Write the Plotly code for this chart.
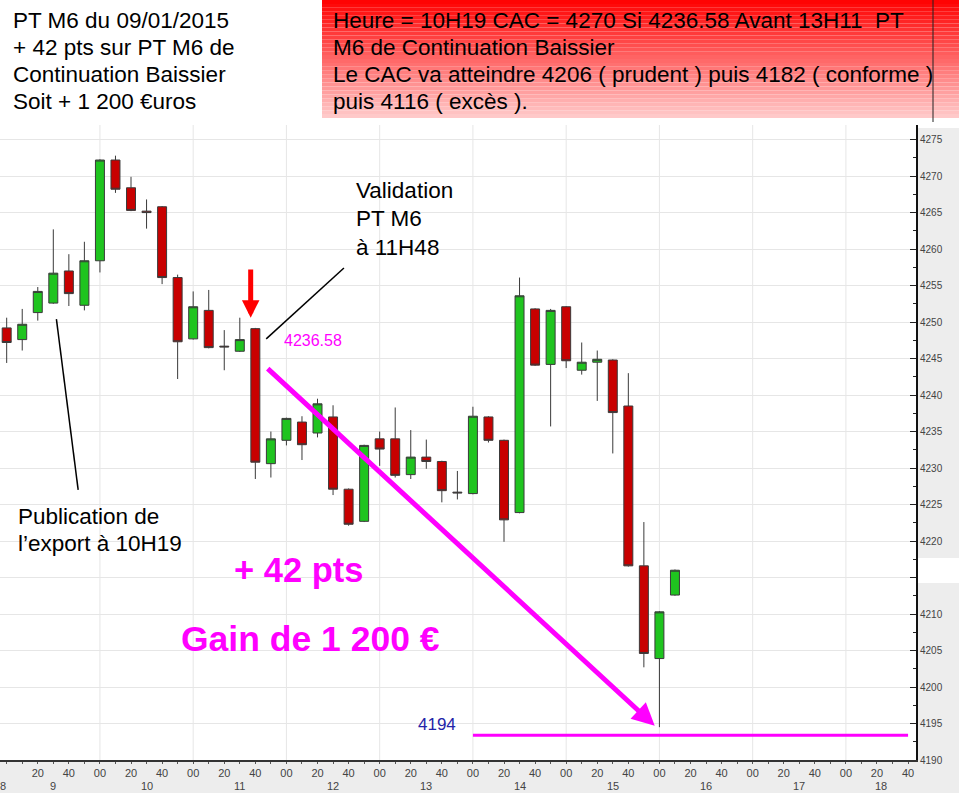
import plotly.graph_objects as go
import pandas as pd

DAY = "2015-01-09"

# ---- data (10-minute candles, CAC 40) ----
times = ["09:00", "09:10", "09:20", "09:30", "09:40", "09:50",
         "10:00", "10:10", "10:20", "10:30", "10:40", "10:50",
         "11:00", "11:10", "11:20", "11:30", "11:40", "11:50",
         "12:00", "12:10", "12:20", "12:30", "12:40", "12:50",
         "13:00", "13:10", "13:20", "13:30", "13:40", "13:50",
         "14:00", "14:10", "14:20", "14:30", "14:40", "14:50",
         "15:00", "15:10", "15:20", "15:30", "15:40", "15:50",
         "16:00", "16:10"]
opens = [4249.2, 4247.6, 4251.3, 4252.6, 4257.0, 4252.3,
         4258.4, 4272.2, 4268.4, 4265.2, 4265.8, 4256.1,
         4247.7, 4251.6, 4246.7, 4246.0, 4249.1, 4230.6,
         4233.8, 4236.3, 4234.8, 4237.0, 4227.1, 4222.7,
         4234.0, 4234.0, 4229.1, 4231.5, 4230.9, 4226.7,
         4226.5, 4237.0, 4233.8, 4223.9, 4251.8, 4244.2,
         4252.1, 4243.4, 4244.5, 4244.8, 4238.5, 4216.6,
         4203.9, 4212.6]
highs = [4250.6, 4251.8, 4254.8, 4262.7, 4259.3, 4261.0,
         4272.3, 4272.8, 4269.9, 4266.8, 4265.9, 4256.5,
         4254.2, 4254.4, 4248.9, 4250.6, 4249.2, 4235.0,
         4236.9, 4237.1, 4239.5, 4238.6, 4227.2, 4233.2,
         4235.0, 4238.3, 4235.2, 4233.9, 4231.0, 4229.6,
         4238.4, 4237.1, 4233.9, 4256.1, 4251.9, 4251.8,
         4252.2, 4247.2, 4246.1, 4244.9, 4243.0, 4222.6,
         4210.4, 4216.1]
lows = [4244.4, 4246.1, 4250.2, 4252.5, 4252.2, 4251.6,
        4256.8, 4267.7, 4265.2, 4262.8, 4255.2, 4242.2,
        4247.6, 4246.4, 4243.4, 4245.9, 4228.5, 4228.7,
        4233.1, 4231.1, 4234.2, 4226.3, 4222.1, 4222.6,
        4230.3, 4228.7, 4228.5, 4229.9, 4225.3, 4225.7,
        4226.4, 4233.5, 4219.9, 4223.8, 4244.0, 4235.7,
        4243.7, 4242.8, 4239.2, 4232.0, 4216.5, 4202.7,
        4194.5, 4212.5]
closes = [4247.2, 4249.7, 4254.2, 4256.7, 4253.9, 4258.4,
          4272.2, 4268.2, 4265.3, 4265.0, 4256.1, 4247.3,
          4252.1, 4246.5, 4246.6, 4247.6, 4230.8, 4234.0,
          4236.8, 4233.2, 4238.8, 4227.1, 4222.3, 4233.1,
          4232.6, 4229.0, 4231.5, 4230.9, 4226.9, 4226.6,
          4237.1, 4233.8, 4222.9, 4253.6, 4244.1, 4251.6,
          4244.7, 4244.5, 4244.9, 4237.6, 4216.6, 4204.6,
          4210.3, 4216.0]

price_ticks = list(range(4190, 4280, 5))
price_labels = ["" if v == 4215 else str(v) for v in price_ticks]
minute_ticks = ["09:20", "09:40", "10:00", "10:20", "10:40", "11:00", "11:20", "11:40",
                "12:00", "12:20", "12:40", "13:00", "13:20", "13:40", "14:00", "14:20",
                "14:40", "15:00", "15:20", "15:40", "16:00", "16:20", "16:40", "17:00",
                "17:20", "17:40", "18:00", "18:20", "18:40"]
minute_labels = ["20", "40", "00", "20", "40", "00", "20", "40",
                 "00", "20", "40", "00", "20", "40", "00", "20",
                 "40", "00", "20", "40", "00", "20", "40", "00",
                 "20", "40", "00", "20", "40"]
hour_labels = ["8", "9", "10", "11", "12", "13", "14", "15", "16", "17", "18"]

header_left = ["PT M6 du 09/01/2015", "+ 42 pts sur PT M6 de",
               "Continuation Baissier", "Soit + 1 200 €uros"]
header_right = ["Heure = 10H19 CAC = 4270 Si 4236.58 Avant 13H11 &nbsp;PT",
                "M6 de Continuation Baissier",
                "Le CAC va atteindre 4206 ( prudent ) puis 4182 ( conforme )",
                "puis 4116 ( excès )."]
validation_lines = ["Validation", "PT M6", "à 11H48"]
publication_lines = ["Publication de", "l’export à 10H19"]

entry_label = "4236.58"
target_level = 4193.4
target_label = "4194"

# ---- helpers ----
def ts(hm):
    return pd.Timestamp(f"{DAY} {hm}")

x = [ts(t) for t in times]
t0 = ts("09:00")
x_min = t0 - pd.Timedelta(minutes=4.3)
x_max = t0 + pd.Timedelta(minutes=585.1)

# hour label positions: centre of the visible part of each hour
hour_pos = []
for h in hour_labels:
    a = max(ts(f"{int(h):02d}:00"), x_min)
    b = min(ts(f"{int(h):02d}:00") + pd.Timedelta(hours=1), x_max)
    hour_pos.append(a + (b - a) / 2)

W, H = 959, 800
PL, PR, PT, PB = 0, 916, 125, 760


def px(v):
    return (v - PL) / (PR - PL)


def py(v):
    return (PB - v) / (PB - PT)


FONT = "Liberation Sans, Arial, sans-serif"
MAG = "#ff00ff"

fig = go.Figure()
fig.add_trace(go.Candlestick(
    x=x, open=opens, high=highs, low=lows, close=closes,
    increasing=dict(fillcolor="#1fc41f", line=dict(color="#3a3a3a", width=1)),
    decreasing=dict(fillcolor="#c80000", line=dict(color="#3a3a3a", width=1)),
    whiskerwidth=0, showlegend=False, hoverinfo="skip",
))

shapes = []
# gray bands of the axes
shapes.append(dict(type="rect", xref="paper", yref="paper", x0=px(0), x1=px(959),
                   y0=py(793), y1=py(760), fillcolor="#ededed", line=dict(width=0), layer="below"))
shapes.append(dict(type="rect", xref="paper", yref="paper", x0=px(916), x1=px(959),
                   y0=py(793), y1=py(128), fillcolor="#ededed", line=dict(width=0), layer="below"))
shapes.append(dict(type="rect", xref="paper", yref="paper", x0=px(917), x1=px(959),
                   y0=py(583), y1=py(558), fillcolor="white", line=dict(width=0), layer="below"))
# white box behind the "Publication" text
shapes.append(dict(type="rect", xref="paper", yref="paper", x0=px(0), x1=px(135),
                   y0=py(700), y1=py(492), fillcolor="white", line=dict(width=0), layer="below"))
# hour grid lines
for h in range(10, 19):
    hx = ts(f"{h:02d}:00")
    shapes.append(dict(type="line", xref="x", yref="paper", x0=hx, x1=hx, y0=0, y1=1,
                       line=dict(color="#e6e6e6", width=1), layer="below"))
# red gradient header box
N = 30
for i in range(N):
    y0 = 118 * i / N
    y1 = 118 * (i + 1) / N
    t = (i + 0.5) / N
    g = int(205 * t)
    shapes.append(dict(type="rect", xref="paper", yref="paper", x0=px(322), x1=px(959),
                       y0=py(y1), y1=py(y0), fillcolor=f"rgb(255,{g},{g})",
                       line=dict(width=0), layer="below"))
shapes.append(dict(type="line", xref="paper", yref="paper", x0=px(933), x1=px(933),
                   y0=py(122), y1=py(0), line=dict(color="#222", width=1)))
# callout lines
shapes.append(dict(type="line", xref="x", yref="y", x0=ts("11:47"), y0=4247.7,
                   x1=ts("12:37"), y1=4257.4, line=dict(color="black", width=1.5)))
shapes.append(dict(type="line", xref="x", yref="y", x0=ts("09:32"), y0=4250.4,
                   x1=ts("09:46"), y1=4227.0, line=dict(color="black", width=1.5)))
# target level line
shapes.append(dict(type="line", xref="x", yref="y", x0=ts("14:00"), x1=ts("18:40"),
                   y0=target_level, y1=target_level, line=dict(color=MAG, width=3)))

ann = []


def text_lines(lines, x_left, y_first, step, size, color="black", bold=False):
    for i, s in enumerate(lines):
        ann.append(dict(xref="paper", yref="paper", x=px(x_left), y=py(y_first + i * step),
                        xanchor="left", yanchor="middle", align="left", showarrow=False,
                        text=f"<b>{s}</b>" if bold else s,
                        font=dict(family=FONT, size=size, color=color)))


text_lines(header_left, 11, 20, 27.2, 22.5)
text_lines(header_right, 331, 20, 27.3, 22.5)
text_lines(validation_lines, 354, 190, 28.5, 22.5)
text_lines(publication_lines, 16, 516, 27.5, 22.5)

ann.append(dict(xref="paper", yref="paper", x=px(298), y=py(570), xanchor="center", yanchor="middle",
                showarrow=False, text="<b>+ 42 pts</b>",
                font=dict(family=FONT, size=34.5, color=MAG)))
ann.append(dict(xref="paper", yref="paper", x=px(310), y=py(639), xanchor="center", yanchor="middle",
                showarrow=False, text="<b>Gain de 1 200 €</b>",
                font=dict(family=FONT, size=35.5, color=MAG)))
ann.append(dict(xref="paper", yref="paper", x=px(313), y=py(340), xanchor="center", yanchor="middle",
                showarrow=False, text=entry_label, font=dict(family=FONT, size=16, color=MAG)))
ann.append(dict(xref="paper", yref="paper", x=px(437), y=py(724), xanchor="center", yanchor="middle",
                showarrow=False, text=target_label, font=dict(family=FONT, size=17, color="#2323a8")))
# hour labels (second row of the time axis)
for hp, hl in zip(hour_pos, hour_labels):
    ann.append(dict(xref="x", yref="paper", x=hp, y=py(786), xanchor="center", yanchor="middle",
                    showarrow=False, text=hl, font=dict(family=FONT, size=11, color="#444")))
# arrows
ann.append(dict(xref="x", yref="y", axref="x", ayref="y",
                x=ts("15:57"), y=4194.7, ax=ts("11:47"), ay=4243.8, text="",
                showarrow=True, arrowhead=2, arrowsize=0.9, arrowwidth=5, arrowcolor=MAG,
                standoff=0, startstandoff=0))
ann.append(dict(xref="x", yref="y", axref="x", ayref="y",
                x=ts("11:37"), y=4250.6, ax=ts("11:37"), ay=4257.4, text="",
                showarrow=True, arrowhead=2, arrowsize=0.7, arrowwidth=5, arrowcolor="#ff0000",
                standoff=0, startstandoff=0))

fig.update_layout(
    width=W, height=H,
    margin=dict(l=PL, r=W - PR, t=PT, b=H - PB, pad=0),
    paper_bgcolor="white", plot_bgcolor="white",
    hovermode=False, showlegend=False,
    boxgap=0.24, boxgroupgap=0.24,
    shapes=shapes, annotations=ann,
    font=dict(family=FONT),
    xaxis=dict(
        type="date", range=[x_min, x_max], rangeslider=dict(visible=False),
        tickmode="array", tickvals=[ts(t) for t in minute_ticks], ticktext=minute_labels,
        ticks="outside", ticklen=2, tickcolor="#555",
        tickfont=dict(family=FONT, size=11, color="#444"),
        showgrid=False, zeroline=False,
        showline=True, linecolor="#333", linewidth=2,
        minor=dict(tickmode="linear", tick0=ts("09:00"), dtick=600000,
                   ticks="outside", ticklen=2, tickcolor="#555", showgrid=False),
        fixedrange=True,
    ),
    yaxis=dict(
        range=[4190, 4277], side="right",
        tickmode="array", tickvals=price_ticks, ticktext=price_labels,
        ticks="inside", ticklen=6, tickcolor="#222",
        tickfont=dict(family=FONT, size=10, color="#444"),
        showgrid=True, gridcolor="#e6e6e6", gridwidth=1, zeroline=False,
        showline=True, linecolor="#111", linewidth=2,
        minor=dict(dtick=2.5, tick0=4190, ticks="inside", ticklen=3, tickcolor="#222", showgrid=False),
        fixedrange=True,
    ),
)

fig.write_html("out.html", config={"displayModeBar": False},
               post_script="document.body.style.margin='0';")
